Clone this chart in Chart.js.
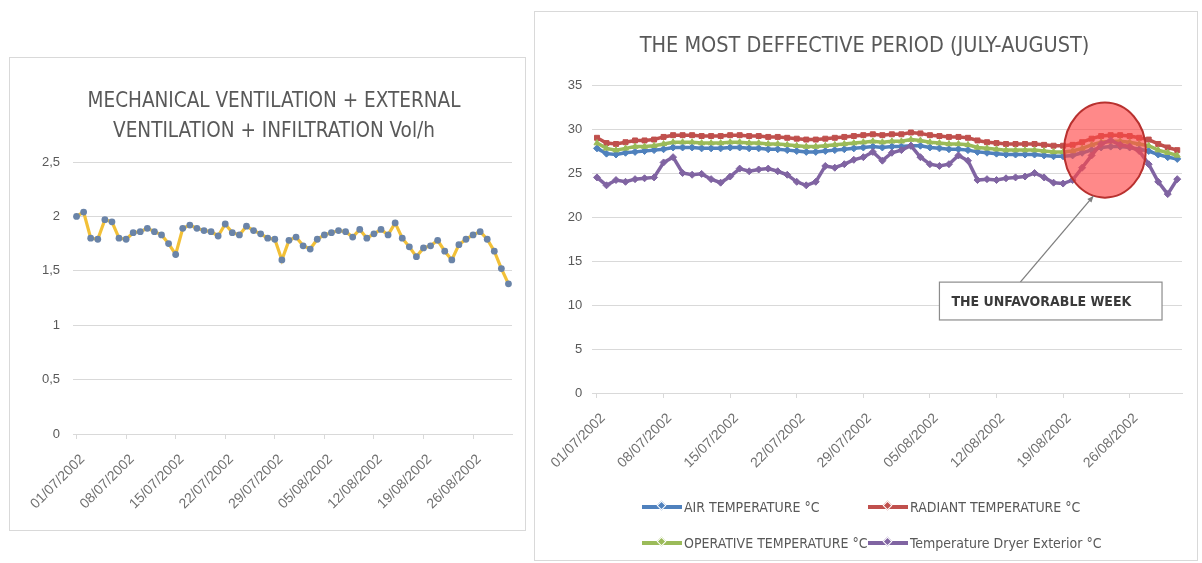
<!DOCTYPE html>
<html>
<head>
<meta charset="utf-8">
<script src="https://cdn.jsdelivr.net/npm/chart.js@4.4.1/dist/chart.umd.min.js"></script>
<style>
  html, body { margin:0; padding:0; background:#ffffff; width:1202px; height:563px; overflow:hidden; }
  .box { position:absolute; border:1px solid #d9d9d9; background:#fff; box-sizing:border-box; }
  canvas { position:absolute; }
  .leg { position:absolute; font-family:'Liberation Sans Narrow','DejaVu Sans Condensed','Liberation Sans',sans-serif; font-size:14px; color:#595959; white-space:nowrap; line-height:16px; }
  .leg .ln { display:inline-block; position:relative; width:40px; height:4px; vertical-align:middle; margin-right:2px; top:-1px; }
  .leg .mk { position:absolute; left:16px; top:-3px; width:7px; height:7px; transform:rotate(45deg); border:1px solid #fff; box-sizing:border-box; }
</style>
</head>
<body>
<div class="box" style="left:9px;top:57px;width:517px;height:474px;"></div>
<div class="box" style="left:534px;top:11px;width:664px;height:550px;"></div>
<canvas id="c1" width="515" height="472" style="left:10px;top:58px;width:515px;height:472px;"></canvas>
<canvas id="c2" width="662" height="548" style="left:535px;top:12px;width:662px;height:548px;"></canvas>
<div id="legend"></div>
<script>
// ---------------- data ----------------
const dates = [
 "01/07/2002","02/07/2002","03/07/2002","04/07/2002","05/07/2002","06/07/2002","07/07/2002",
 "08/07/2002","09/07/2002","10/07/2002","11/07/2002","12/07/2002","13/07/2002","14/07/2002",
 "15/07/2002","16/07/2002","17/07/2002","18/07/2002","19/07/2002","20/07/2002","21/07/2002",
 "22/07/2002","23/07/2002","24/07/2002","25/07/2002","26/07/2002","27/07/2002","28/07/2002",
 "29/07/2002","30/07/2002","31/07/2002","01/08/2002","02/08/2002","03/08/2002","04/08/2002",
 "05/08/2002","06/08/2002","07/08/2002","08/08/2002","09/08/2002","10/08/2002","11/08/2002",
 "12/08/2002","13/08/2002","14/08/2002","15/08/2002","16/08/2002","17/08/2002","18/08/2002",
 "19/08/2002","20/08/2002","21/08/2002","22/08/2002","23/08/2002","24/08/2002","25/08/2002",
 "26/08/2002","27/08/2002","28/08/2002","29/08/2002","30/08/2002","31/08/2002"
];

const ventilation = [
 2.00,2.04,1.80,1.79,1.97,1.95,1.80,1.79,1.85,1.86,
 1.89,1.86,1.83,1.75,1.65,1.89,1.92,1.89,1.87,1.86,
 1.82,1.93,1.85,1.83,1.91,1.87,1.84,1.80,1.79,1.60,
 1.78,1.81,1.73,1.70,1.79,1.83,1.85,1.87,1.86,1.81,
 1.88,1.80,1.84,1.88,1.83,1.94,1.80,1.72,1.63,1.71,
 1.73,1.78,1.68,1.60,1.74,1.79,1.83,1.86,1.79,1.68,
 1.52,1.38
];

const airTemp = [
 27.8,27.2,27.1,27.3,27.4,27.5,27.6,27.7,27.9,27.9,
 27.9,27.8,27.8,27.8,27.9,27.9,27.8,27.8,27.7,27.7,
 27.6,27.5,27.4,27.4,27.5,27.6,27.7,27.8,27.9,28.0,
 27.9,28.0,28.0,28.1,28.1,27.9,27.8,27.7,27.7,27.6,
 27.4,27.3,27.2,27.1,27.1,27.1,27.1,27.0,26.9,26.9,
 27.0,27.3,27.6,27.9,28.0,28.0,27.9,27.7,27.5,27.1,
 26.8,26.6
];
const radiantTemp = [
 29.0,28.4,28.3,28.5,28.7,28.7,28.8,29.1,29.3,29.3,
 29.3,29.2,29.2,29.2,29.3,29.3,29.2,29.2,29.1,29.1,
 29.0,28.9,28.8,28.8,28.9,29.0,29.1,29.2,29.3,29.4,
 29.3,29.4,29.4,29.6,29.5,29.3,29.2,29.1,29.1,29.0,
 28.7,28.5,28.4,28.3,28.3,28.3,28.3,28.2,28.1,28.1,
 28.2,28.5,28.9,29.2,29.3,29.3,29.2,29.0,28.8,28.3,
 27.9,27.6
];
const operativeTemp = [
 28.4,27.8,27.6,27.8,28.0,28.0,28.1,28.3,28.5,28.5,
 28.5,28.4,28.4,28.4,28.5,28.5,28.4,28.4,28.3,28.3,
 28.2,28.1,28.0,28.0,28.1,28.2,28.3,28.4,28.5,28.6,
 28.5,28.6,28.6,28.8,28.7,28.5,28.4,28.3,28.3,28.2,
 27.9,27.8,27.7,27.6,27.6,27.6,27.6,27.5,27.4,27.4,
 27.5,27.8,28.2,28.5,28.6,28.6,28.5,28.3,28.1,27.6,
 27.3,27.0
];
const exteriorTemp = [
 24.5,23.6,24.2,24.0,24.3,24.4,24.5,26.2,26.8,25.0,
 24.8,24.9,24.3,23.9,24.6,25.5,25.2,25.4,25.5,25.2,
 24.8,24.0,23.6,24.0,25.8,25.6,26.0,26.5,26.8,27.4,
 26.4,27.3,27.6,28.1,26.8,26.0,25.8,26.0,27.0,26.4,
 24.2,24.3,24.2,24.4,24.5,24.6,25.0,24.5,23.9,23.8,
 24.2,25.6,27.0,28.3,28.7,28.2,28.0,27.5,26.0,24.0,
 22.6,24.3
];

const seriesNames = ["AIR TEMPERATURE °C","RADIANT TEMPERATURE °C","OPERATIVE TEMPERATURE °C","Temperature Dryer Exterior °C"];
const seriesColors = ["#4f81bd","#c0504d","#9bbb59","#8064a2"];
const leftTitle = ["MECHANICAL VENTILATION + EXTERNAL","VENTILATION + INFILTRATION Vol/h"];
const rightTitle = "THE MOST DEFFECTIVE PERIOD (JULY-AUGUST)";
const calloutText = "THE UNFAVORABLE WEEK";

// ---------------- styles ----------------
const NARROW = "'Liberation Sans Narrow','DejaVu Sans Condensed','Liberation Sans',sans-serif";
const SANS = "'Liberation Sans','DejaVu Sans',sans-serif";
const GREY = "#595959";
const LIGHTGREY = "#707070";
const GRID = "#d9d9d9";
Chart.defaults.font.family = SANS;
Chart.defaults.color = GREY;

function xTickCb(v, i) { return i % 7 === 0 ? dates[i] : ''; }
function xGridColor(ctx) { return (ctx.index % 7 === 0) ? GRID : 'rgba(0,0,0,0)'; }
function fixX(h) { return s => { s.height = h; s.paddingRight = 0; }; }

// ---------------- left chart ----------------
new Chart(document.getElementById('c1'), {
  type: 'line',
  data: {
    labels: dates,
    datasets: [{
      label: 'Vol/h',
      data: ventilation,
      borderColor: '#f2c037',
      borderWidth: 3.2,
      pointBackgroundColor: '#6a84a8',
      pointBorderColor: '#6a84a8',
      pointRadius: 3.4,
      pointBorderWidth: 0,
      tension: 0
    }]
  },
  options: {
    responsive: false,
    animation: false,
    devicePixelRatio: 1,
    layout: { padding: { left: 26, right: 13, top: 0, bottom: 6 } },
    plugins: {
      legend: { display: false },
      tooltip: { enabled: false },
      title: {
        display: true,
        text: leftTitle,
        color: GREY,
        font: { family: NARROW, size: 20.5, weight: 'normal', lineHeight: '30px' },
        padding: { top: 29, bottom: 15 }
      }
    },
    scales: {
      x: {
        offset: true,
        afterFit: fixX(90),
        grid: { offset: false, drawOnChartArea: false, drawTicks: true, tickLength: 5, color: xGridColor },
        border: { display: true, color: GRID },
        ticks: { autoSkip: false, maxRotation: 45, minRotation: 45, padding: 12, labelOffset: 6, color: LIGHTGREY,
                 font: { family: SANS, size: 14 }, callback: xTickCb }
      },
      y: {
        min: 0, max: 2.5,
        afterFit: s => { s.width = 37; },
        grid: { color: GRID, drawTicks: false },
        border: { display: false },
        ticks: { stepSize: 0.5, padding: 13, color: GREY, font: { family: SANS, size: 13 },
                 callback: v => String(v).replace('.', ',') }
      }
    }
  }
});

// ---------------- right chart ----------------
const callout = {
  // positions in data units (category index, value)
  ellipse: { cx: 53.4, cy: 27.6, rx: 4.3, ry: 5.4 },
  arrowFrom: { x: 44.5, y: 12.6 },
  arrowTo: { x: 52.2, y: 22.4 },
  box: { x0: 36.0, x1: 59.4, y0: 12.6, y1: 8.3 }
};

const calloutPlugin = {
  id: 'callout',
  afterDatasetsDraw(chart) {
    const { ctx, scales: { x, y } } = chart;
    const e = callout.ellipse;
    const cx = x.getPixelForValue(e.cx), cy = y.getPixelForValue(e.cy);
    const rx = Math.abs(x.getPixelForValue(e.cx + e.rx) - cx);
    const ry = Math.abs(y.getPixelForValue(e.cy + e.ry) - cy);
    ctx.save();
    ctx.beginPath();
    ctx.ellipse(cx, cy, rx, ry, 0, 0, Math.PI * 2);
    ctx.fillStyle = 'rgba(255,70,70,0.64)';
    ctx.fill();
    ctx.lineWidth = 2;
    ctx.strokeStyle = '#b8312f';
    ctx.stroke();

    // arrow
    const ax0 = x.getPixelForValue(callout.arrowFrom.x), ay0 = y.getPixelForValue(callout.arrowFrom.y);
    const ax1 = x.getPixelForValue(callout.arrowTo.x), ay1 = y.getPixelForValue(callout.arrowTo.y);
    ctx.beginPath();
    ctx.moveTo(ax0, ay0); ctx.lineTo(ax1, ay1);
    ctx.strokeStyle = '#7f7f7f'; ctx.lineWidth = 1.3; ctx.stroke();
    const ang = Math.atan2(ay1 - ay0, ax1 - ax0);
    ctx.beginPath();
    ctx.moveTo(ax1, ay1);
    ctx.lineTo(ax1 - 7 * Math.cos(ang - 0.4), ay1 - 7 * Math.sin(ang - 0.4));
    ctx.lineTo(ax1 - 7 * Math.cos(ang + 0.4), ay1 - 7 * Math.sin(ang + 0.4));
    ctx.closePath();
    ctx.fillStyle = '#7f7f7f'; ctx.fill();

    // box
    const b = callout.box;
    const bx0 = x.getPixelForValue(b.x0), bx1 = x.getPixelForValue(b.x1);
    const by0 = y.getPixelForValue(b.y0), by1 = y.getPixelForValue(b.y1);
    ctx.fillStyle = '#ffffff';
    ctx.fillRect(bx0, by0, bx1 - bx0, by1 - by0);
    ctx.strokeStyle = '#8c8c8c'; ctx.lineWidth = 1.2;
    ctx.strokeRect(bx0, by0, bx1 - bx0, by1 - by0);
    ctx.fillStyle = '#3a3a3a';
    ctx.font = "bold 14px " + NARROW;
    ctx.textBaseline = 'middle';
    ctx.textAlign = 'left';
    ctx.fillText(calloutText, bx0 + 12, (by0 + by1) / 2 + 1);
    ctx.restore();
  }
};

const tempSeries = [airTemp, radiantTemp, operativeTemp, exteriorTemp];
const markerStyles = ['rectRot', 'rect', 'triangle', 'rectRot'];

new Chart(document.getElementById('c2'), {
  type: 'line',
  data: {
    labels: dates,
    datasets: tempSeries.map((d, k) => ({
      label: seriesNames[k],
      data: d,
      borderColor: seriesColors[k],
      backgroundColor: seriesColors[k],
      borderWidth: 3.5,
      pointStyle: markerStyles[k],
      pointRadius: 3.5,
      pointBorderWidth: 1,
      pointBackgroundColor: seriesColors[k],
      pointBorderColor: seriesColors[k],
      tension: 0,
      order: 4 - k
    }))
  },
  options: {
    responsive: false,
    animation: false,
    devicePixelRatio: 1,
    layout: { padding: { left: 12, right: 15, top: 0, bottom: 67 } },
    plugins: {
      legend: { display: false },
      tooltip: { enabled: false },
      title: {
        display: true,
        text: rightTitle,
        color: GREY,
        font: { family: NARROW, size: 21.5, weight: 'normal', lineHeight: '26px' },
        padding: { top: 21, bottom: 26 }
      }
    },
    scales: {
      x: {
        offset: true,
        afterFit: fixX(100),
        grid: { offset: false, drawOnChartArea: false, drawTicks: true, tickLength: 5, color: xGridColor },
        border: { display: true, color: GRID },
        ticks: { autoSkip: false, maxRotation: 45, minRotation: 45, padding: 12, labelOffset: 6, color: LIGHTGREY,
                 font: { family: SANS, size: 14 }, callback: xTickCb }
      },
      y: {
        min: 0, max: 35,
        afterFit: s => { s.width = 43; },
        grid: { color: GRID, drawTicks: false },
        border: { display: false },
        ticks: { stepSize: 5, padding: 10, color: GREY, font: { family: SANS, size: 13 } }
      }
    }
  },
  plugins: [calloutPlugin]
});

// ---------------- legend (HTML) ----------------
const legPos = [[642, 499], [868, 499], [642, 535], [868, 535]];
const legEl = document.getElementById('legend');
seriesNames.forEach((n, k) => {
  const d = document.createElement('div');
  d.className = 'leg';
  d.style.left = legPos[k][0] + 'px';
  d.style.top = legPos[k][1] + 'px';
  const ln = document.createElement('span');
  ln.className = 'ln';
  ln.style.background = seriesColors[k];
  const mk = document.createElement('span');
  mk.className = 'mk';
  mk.style.background = seriesColors[k];
  ln.appendChild(mk);
  d.appendChild(ln);
  d.appendChild(document.createTextNode(n));
  legEl.appendChild(d);
});
</script>
</body>
</html>
